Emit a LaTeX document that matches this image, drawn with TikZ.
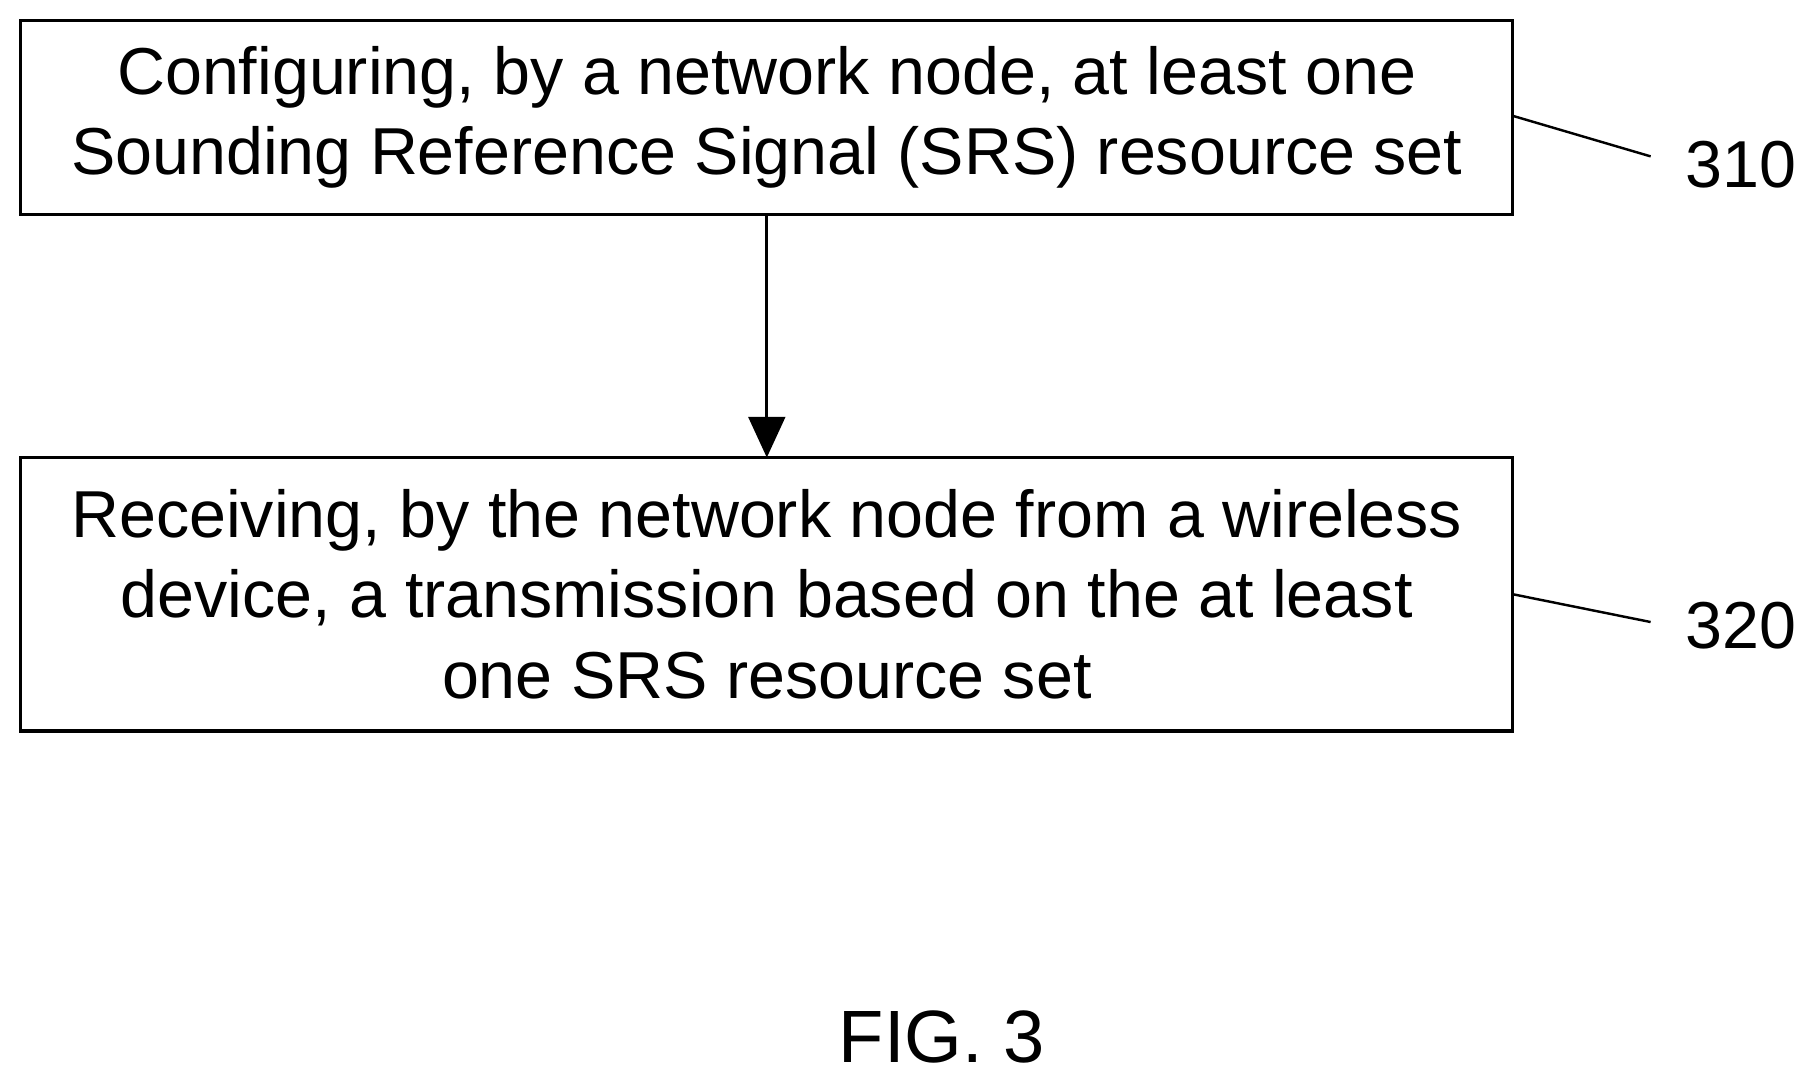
\documentclass[tikz,border=0pt]{standalone}
\usepackage{fontspec}
\setmainfont{Liberation Sans}
\usetikzlibrary{arrows.meta}
\begin{document}
\begin{tikzpicture}[x=0.01cm,y=-0.01cm,
  txt/.style={align=center,font=\fontsize{16.3}{19.7}\selectfont},
  lbl/.style={font=\fontsize{16.3}{18}\selectfont},
  lead/.style={line width=0.6pt}]
\useasboundingbox (0,0) rectangle (1560,930);
\draw[line width=0.8pt] (18,18) rectangle (1306,185);
\node[txt] (b1) at (662,101) {Configuring, by a network node, at least one\\Sounding Reference Signal (SRS) resource set};
\draw[line width=0.8pt] (18,395) rectangle (1306,631);
\node[txt] (b2) at (662,513) {Receiving, by the network node from a wireless\\device, a transmission based on the at least\\one SRS resource set};
\coordinate (a1) at (662,185);
\coordinate (a2) at (662,395);
\draw[line width=0.8pt,-{Triangle[length=10pt,width=9pt]}] (a1) -- (a2);
\node[lbl] (l310) at (1503,142) {310};
\node[lbl] (l320) at (1503,540) {320};
\coordinate (c1) at (1306,100);
\coordinate (c2) at (1306,513);
\draw[lead] (c1) -- (1425,135);
\draw[lead] (c2) -- (1425,537);
\node[font=\fontsize{18.2}{22}\selectfont] (fig) at (813,895) {FIG. 3};
\end{tikzpicture}
\end{document}
